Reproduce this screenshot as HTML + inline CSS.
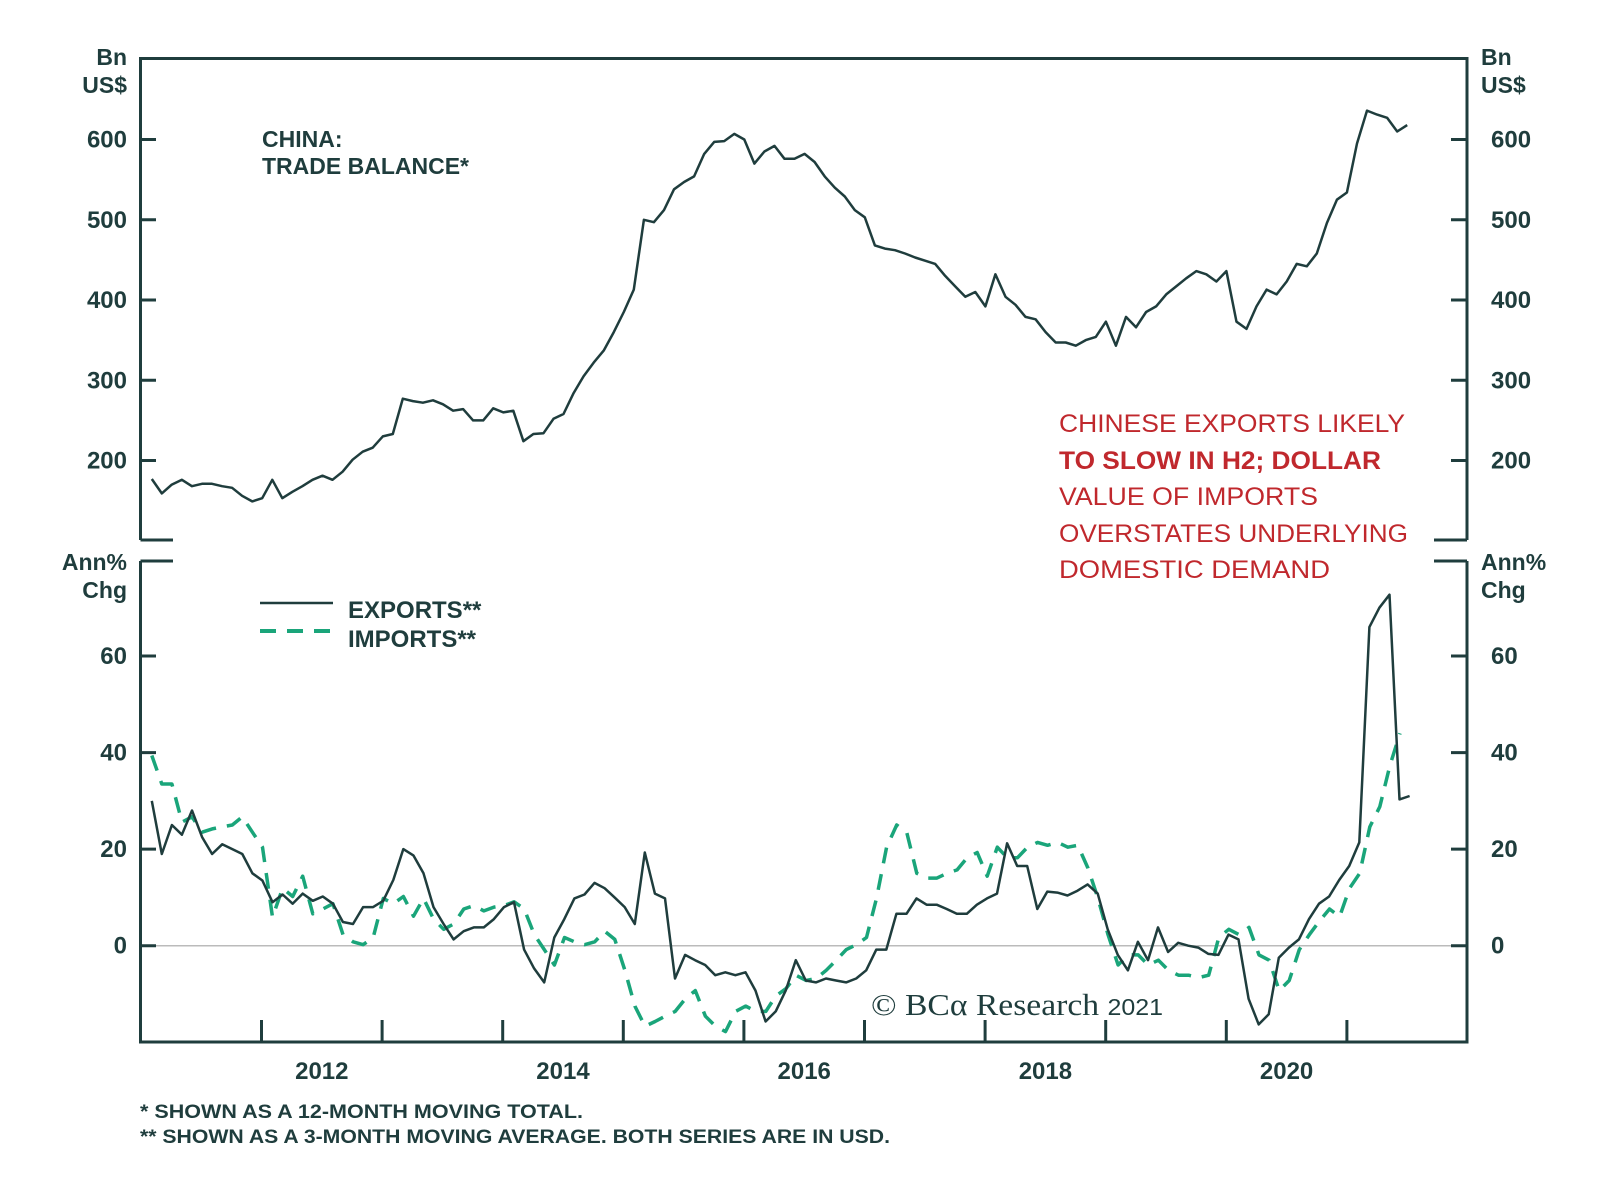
<!DOCTYPE html>
<html><head><meta charset="utf-8">
<style>
html,body{margin:0;padding:0;background:#fff;}
svg{display:block;font-family:"Liberation Sans",sans-serif;}
.ax{fill:#1f3d3d;font-weight:bold;}
</style></head>
<body>
<svg id="chart" width="1600" height="1191" viewBox="0 0 1600 1191" xmlns="http://www.w3.org/2000/svg">
<rect width="1600" height="1191" fill="#fff"/>
<g id="frame" stroke="#1f3d3d" stroke-width="3" fill="none">
<path d="M140.5 540 V58.5 H1467 V540"/>
<path d="M140.5 540 H173 M1434 540 H1467"/>
<path d="M140.5 561 V1042 H1467 V561"/>
<path d="M140.5 561 H173 M1434 561 H1467"/>
</g>
<line x1="142" x2="1466" y1="945.7" y2="945.7" stroke="#bbb" stroke-width="1.5"/>
<g id="ticks" stroke="#1f3d3d" stroke-width="3"></g>
<g id="labels" class="ax"></g>
<text class="ax" x="127" y="65" font-size="23" text-anchor="end">Bn</text>
<text class="ax" x="127" y="93" font-size="23" text-anchor="end">US$</text>
<text class="ax" x="1481" y="65" font-size="23">Bn</text>
<text class="ax" x="1481" y="93" font-size="23">US$</text>
<text class="ax" x="127" y="570" font-size="23" text-anchor="end">Ann%</text>
<text class="ax" x="127" y="598" font-size="23" text-anchor="end">Chg</text>
<text class="ax" x="1481" y="570" font-size="23">Ann%</text>
<text class="ax" x="1481" y="598" font-size="23">Chg</text>
<text class="ax" x="262" y="147" font-size="23">CHINA:</text>
<text class="ax" x="262" y="174" font-size="23">TRADE BALANCE*</text>
<g fill="#c0282d" font-size="25">
<text x="1059" y="432" textLength="346" lengthAdjust="spacingAndGlyphs">CHINESE EXPORTS LIKELY</text>
<text x="1059" y="469" textLength="322" lengthAdjust="spacingAndGlyphs" font-weight="bold">TO SLOW IN H2; DOLLAR</text>
<text x="1059" y="505" textLength="259" lengthAdjust="spacingAndGlyphs">VALUE OF IMPORTS</text>
<text x="1059" y="542" textLength="349" lengthAdjust="spacingAndGlyphs">OVERSTATES UNDERLYING</text>
<text x="1059" y="578" textLength="271" lengthAdjust="spacingAndGlyphs">DOMESTIC DEMAND</text>
</g>
<g>
<line x1="260" x2="333" y1="603" y2="603" stroke="#1f3d3d" stroke-width="2.5"/>
<line x1="260" x2="333" y1="631" y2="631" stroke="#1aa57a" stroke-width="4" stroke-dasharray="16,11"/>
<text class="ax" x="348" y="618" font-size="24">EXPORTS**</text>
<text class="ax" x="348" y="647" font-size="24">IMPORTS**</text>
</g>
<text x="871" y="1015" font-family="Liberation Serif,serif" font-size="31" fill="#1f3d3d" textLength="292" lengthAdjust="spacingAndGlyphs">© BCα Research <tspan font-family="Liberation Sans,sans-serif" font-size="23">2021</tspan></text>
<text class="ax" x="140" y="1118" font-size="19" textLength="443" lengthAdjust="spacingAndGlyphs">*  SHOWN AS A 12-MONTH MOVING TOTAL.</text>
<text class="ax" x="140" y="1143" font-size="19" textLength="750" lengthAdjust="spacingAndGlyphs">** SHOWN AS A 3-MONTH MOVING AVERAGE. BOTH SERIES ARE IN USD.</text>
<g id="series"></g>
</svg>
<script>
const tradeBalance=[177,159,170,176,168,171,171,168,166,156,149,153,176,153,161,168,176,181,176,186,201,211,216,230,233,277,274,272,275,270,262,264,250,250,265,260,262,224,233,234,252,258,284,305,322,337,360,385,413,500,497,512,538,547,554,582,597,598,607,600,570,585,592,576,576,582,572,554,540,529,512,503,468,464,462,458,453,449,445,430,417,404,410,392,432,404,394,379,376,360,347,347,343,350,354,373,343,379,366,385,392,407,417,427,436,432,423,436,373,364,392,413,407,423,445,442,458,496,525,534,595,636,631,627,610,618];
const exportsChg=[30,19,25,23,28,22.5,19,21,20,19,15,13.5,9,10.6,8.7,10.8,9.3,10.2,8.7,4.9,4.5,8,8,9.3,13.6,20,18.7,15,8,4.5,1.3,3,3.8,3.8,5.5,8,9,-0.8,-4.7,-7.6,1.7,5.5,9.8,10.6,13,11.9,10,8,4.5,19.3,10.8,9.8,-6.8,-1.9,-3,-4,-6.1,-5.5,-6.1,-5.5,-9.3,-15.7,-13.6,-9.3,-3,-7.2,-7.6,-6.8,-7.2,-7.6,-6.8,-5.1,-0.8,-0.8,6.6,6.6,9.8,8.5,8.5,7.6,6.6,6.6,8.5,9.8,10.8,21.2,16.5,16.5,7.6,11.2,11,10.4,11.4,12.7,10.8,3.4,-1.9,-5.1,0.8,-3,3.8,-1.3,0.6,0,-0.4,-1.7,-1.9,2.3,1.3,-11,-16.3,-14.2,-2.5,-0.4,1.3,5.5,8.7,10.2,13.6,16.5,21.4,66,70,72.7,30.3,31];
const importsChg=[39.4,33.5,33.5,25.6,26.7,23.5,24.2,24.6,25,26.7,23.5,20.4,5.9,11.9,10.2,14.4,6.6,7.6,8.7,2.3,0.8,0.2,1.7,9.8,8.7,10.2,6.1,9.8,5.5,3.4,4.5,7.6,8.3,7.2,8,8.3,9.1,7.6,2.3,-0.8,-4,1.7,0.8,0.2,0.8,3,1.3,-5.1,-12.5,-16.7,-15.7,-14.6,-13.6,-11,-9.3,-14.6,-16.7,-17.8,-13.6,-12.5,-13.6,-13.6,-10.4,-8.9,-6.1,-7.2,-6.8,-5.1,-3,-0.8,0.2,1.7,9.8,20.4,25,23.5,15,14,14,15,15.7,18.2,19.3,14.4,20.4,18.2,18.2,20.4,21.4,20.8,21.4,20.4,20.8,16.1,9.8,2.3,-4,-1.9,-1.9,-4,-3,-5.1,-6.1,-6.1,-6.6,-6.1,1.7,3.4,2.3,3.8,-1.9,-3,-9.3,-7.2,-0.8,2.3,5.1,7.6,6,11.9,15,24.6,28.8,37.3,44];
const seriesStart=2011.09;
const tradeEnd=2021.50, exportsEnd=2021.52, importsEnd=2021.44;
const upperTicks=[200,300,400,500,600];
const lowerTicks=[0,20,40,60];
const yearTicks=[2012,2013,2014,2015,2016,2017,2018,2019,2020,2021];
const yearLabels=[2012,2014,2016,2018,2020];

const NS="http://www.w3.org/2000/svg";
const X=y=>261.5+(y-2012)*120.6;
const YU=v=>621-v*0.8025;
const YL=v=>945.7-v*4.828;
function mk(tag,attrs,parent){const e=document.createElementNS(NS,tag);for(const k in attrs)e.setAttribute(k,attrs[k]);parent.appendChild(e);return e;}
const ticks=document.getElementById('ticks'), labels=document.getElementById('labels'), series=document.getElementById('series');
upperTicks.forEach(v=>{
  const y=YU(v);
  let t=mk('path',{d:`M140.5 ${y}H156 M1451 ${y}H1467`},ticks);
  
  
  let a=mk('text',{x:127,y:y+8,'font-size':24,'text-anchor':'end'},labels);a.textContent=v;
  
  
  let b=mk('text',{x:1491,y:y+8,'font-size':24},labels);b.textContent=v;
  
  
});
lowerTicks.forEach(v=>{
  const y=YL(v);
  let t=mk('path',{d:`M140.5 ${y}H156 M1451 ${y}H1467`},ticks);
  
  
  let a=mk('text',{x:127,y:y+8,'font-size':24,'text-anchor':'end'},labels);a.textContent=v;
  
  
  let b=mk('text',{x:1491,y:y+8,'font-size':24},labels);b.textContent=v;
  
  
});
yearTicks.forEach(yr=>{
  const x=X(yr);
  let t=mk('path',{d:`M${x} 1042V1020`},ticks);
  
  
});
yearLabels.forEach(yr=>{
  let a=mk('text',{x:X(yr+0.5),y:1079,'font-size':24,'text-anchor':'middle'},labels);a.textContent=yr;
  
  
});
function line(vals,end,yf,attrs,name){
  const n=vals.length;
  const d=vals.map((v,i)=>(i?'L':'M')+X(seriesStart+(end-seriesStart)*i/(n-1)).toFixed(1)+' '+yf(v).toFixed(1)).join(' ');
  const p=mk('path',Object.assign({d:d,fill:'none','stroke-linejoin':'round'},attrs),series);
  
  
}
line(tradeBalance,tradeEnd,YU,{stroke:'#1f3d3d','stroke-width':2.5},'trade-balance-line');
line(importsChg,importsEnd,YL,{stroke:'#1aa57a','stroke-width':3.5,'stroke-dasharray':'16,11'},'imports-line');
line(exportsChg,exportsEnd,YL,{stroke:'#1f3d3d','stroke-width':2.5},'exports-line');
</script>
</body></html>
